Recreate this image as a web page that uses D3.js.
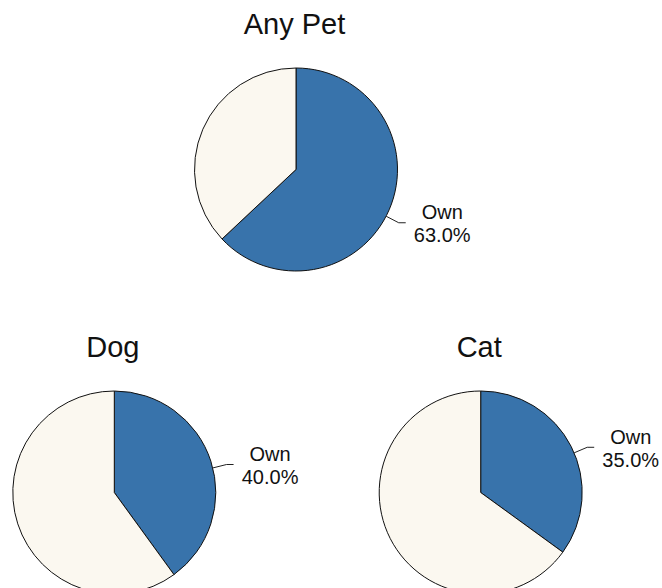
<!DOCTYPE html>
<html>
<head>
<meta charset="utf-8">
<script src="https://cdn.jsdelivr.net/npm/d3@7"></script>
<style>
  html, body { margin: 0; padding: 0; background: #fff; }
  svg { display: block; }
  text { font-family: "Liberation Sans", Arial, Helvetica, sans-serif; fill: #111; }
</style>
</head>
<body>
<div id="chart"></div>
<script>
// data
const pieTitles = ["Any Pet", "Dog", "Cat"];
const ownShare = [63.0, 40.0, 35.0];
const sliceNames = ["Own", "Don't own"];
const sliceColors = ["#3873ab", "#fbf8f0"];

// layout
const width = 662;
const height = 588;
const radius = 101.5;
const centers = [
  { x: 296, y: 169.5 },
  { x: 114.3, y: 492.5 },
  { x: 480.7, y: 492.5 }
];

const svg = d3.select("#chart")
  .append("svg")
  .attr("width", width)
  .attr("height", height);

const color = d3.scaleOrdinal().domain(sliceNames).range(sliceColors);

const pie = d3.pie()
  .sort(null)
  .value(d => d.value);

const arc = d3.arc()
  .innerRadius(0)
  .outerRadius(radius);

pieTitles.forEach((title, i) => {
  const c = centers[i];
  const slices = [
    { name: sliceNames[0], value: ownShare[i] },
    { name: sliceNames[1], value: 100 - ownShare[i] }
  ];

  const g = svg.append("g")
    .attr("transform", `translate(${c.x},${c.y})`);

  // title
  g.append("text")
    .attr("x", -1.5)
    .attr("y", -radius - 34)
    .attr("text-anchor", "middle")
    .attr("font-size", 29)
    .text(title);

  // slices
  g.selectAll("path")
    .data(pie(slices))
    .join("path")
    .attr("d", arc)
    .attr("fill", d => color(d.data.name))
    .attr("stroke", "#111")
    .attr("stroke-width", 1)
    .attr("stroke-linejoin", "round");

  // leader line + label for the "Own" slice
  const own = pie(slices)[0];
  const a = (own.startAngle + own.endAngle) / 2 + 4 * Math.PI / 180;
  const sx = Math.sin(a), sy = -Math.cos(a);
  const x0 = radius * sx, y0 = radius * sy;
  const x1 = radius * 1.14 * sx, y1 = radius * 1.14 * sy;
  const x2 = x1 + 7;

  g.append("path")
    .attr("d", d3.line()([[x0, y0], [x1, y1], [x2, y1]]))
    .attr("fill", "none")
    .attr("stroke", "#222")
    .attr("stroke-width", 1);

  const label = g.append("text")
    .attr("text-anchor", "middle")
    .attr("font-size", 20);

  label.append("tspan")
    .attr("x", x2 + 36.5)
    .attr("y", y1 - 3.3)
    .text(own.data.name);

  label.append("tspan")
    .attr("x", x2 + 36.5)
    .attr("y", y1 + 19.2)
    .text(`${own.data.value.toFixed(1)}%`);
});
</script>
</body>
</html>
